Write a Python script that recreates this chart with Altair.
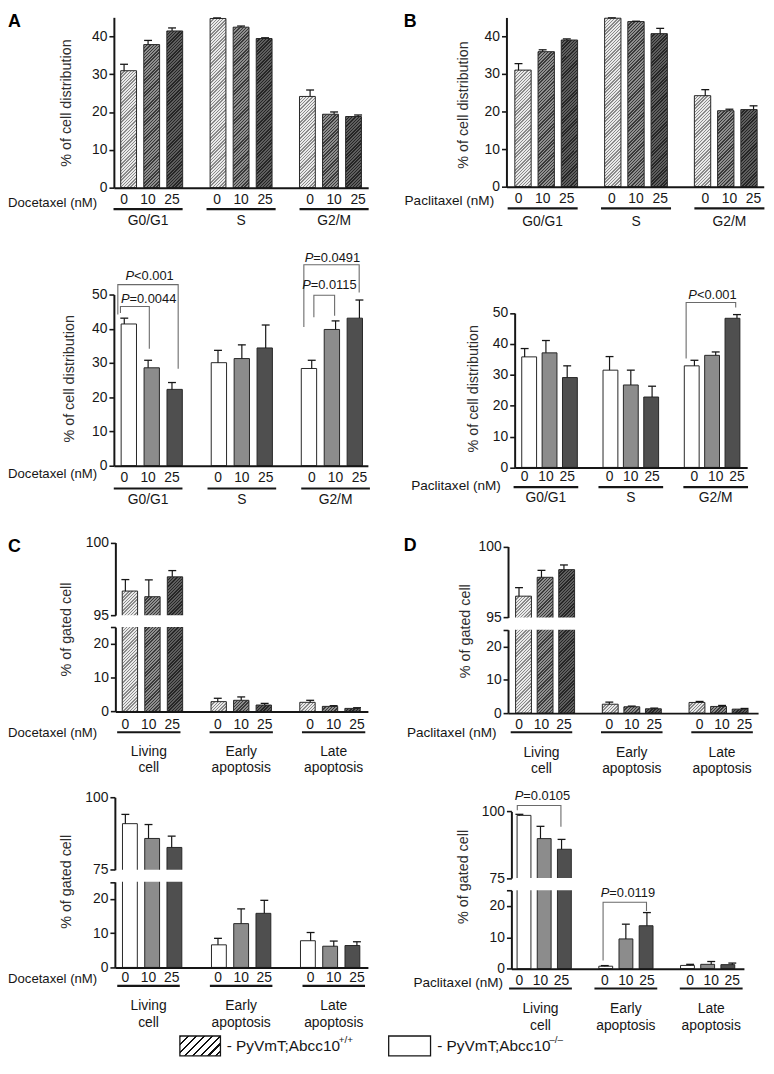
import math
import altair as alt

OFF = 8            # page margin: reference pixel -> canvas pixel
W, H = 766, 1054
FONT = "Liberation Sans"
INK = "#161616"
EXT = 2.5          # px a split bar runs into the axis break

# ---------------- data ----------------
DOSES = ["0", "10", "25"]
CYCLE_GROUPS = ["G0/G1", "S", "G2/M"]
APOP_GROUPS = ["Living\ncell", "Early\napoptosis", "Late\napoptosis"]
DOC = "Docetaxel (nM)"
PAC = "Paclitaxel (nM)"
Y_CYCLE = "% of cell distribution"
Y_APOP = "% of gated cell"

# order: group x dose (0, 10, 25)
A1_MEAN = [30.9, 37.8, 41.4, 44.7, 42.4, 39.4, 24.1, 19.4, 18.8]
A1_ERR = [1.7, 1.1, 0.8, 0.15, 0.3, 0.2, 1.7, 0.6, 0.4]
A2_MEAN = [41.4, 28.6, 22.3, 30.1, 31.3, 34.4, 28.4, 39.8, 43.1]
A2_ERR = [1.7, 2.2, 2.0, 3.6, 4.0, 6.7, 2.4, 2.5, 5.3]
B1_MEAN = [31.0, 35.9, 39.0, 44.8, 43.9, 40.7, 24.2, 20.2, 20.5]
B1_ERR = [1.7, 0.5, 0.3, 0.1, 0.1, 1.4, 1.6, 0.4, 1.0]
B2_MEAN = [35.8, 37.1, 29.1, 31.5, 26.7, 22.8, 32.9, 36.3, 48.3]
B2_ERR = [2.7, 4.0, 3.8, 4.4, 4.8, 3.5, 1.8, 1.1, 1.2]
C1_MEAN = [96.66, 96.27, 97.64, 2.9, 3.3, 1.9, 2.7, 1.5, 0.9]
C1_ERR = [0.79, 1.16, 0.43, 1.0, 1.0, 0.5, 0.6, 0.2, 0.2]
C2_MEAN = [90.9, 85.8, 82.7, 6.6, 12.8, 15.8, 7.8, 6.2, 6.4]
C2_ERR = [3.2, 4.8, 3.9, 1.9, 4.3, 3.8, 2.4, 1.5, 1.1]
D1_MEAN = [96.5, 97.83, 98.37, 2.67, 1.9, 1.3, 3.2, 2.0, 1.2]
D1_ERR = [0.6, 0.49, 0.33, 0.63, 0.2, 0.2, 0.3, 0.3, 0.2]
D2_MEAN = [98.5, 89.8, 85.8, 0.8, 9.5, 13.7, 1.05, 1.4, 1.3]
D2_ERR = [0.4, 4.6, 3.7, 0.2, 4.7, 4.2, 0.35, 0.9, 0.5]

SIG_A2 = ["P<0.001", "P=0.0044", "P=0.0491", "P=0.0115"]
SIG_B2 = ["P<0.001"]
SIG_D2 = ["P=0.0105", "P=0.0119"]

LEGEND_TXT = ["- PyVmT;Abcc10", "+/+", "- PyVmT;Abcc10", "\u2013/\u2013"]

# ---------------- styles ----------------
HATCH = {"0": ("#e9e9e9", "#8a8a8a"), "10": ("#8e8e8e", "#3a3a3a"), "25": ("#5e5e5e", "#262626")}
OPEN = {"0": "#ffffff", "10": "#8c8c8c", "25": "#4f4f4f"}
CW = {"P": .667, "=": .584, "<": .584, ".": .278, "-": .333, " ": .278, "y": .5, "V": .667,
      "m": .833, "T": .611, ";": .278, "A": .667, "b": .556, "c": .5}


def cpx(v):
    return v - OFF


def text_w(s, size):
    return sum(CW.get(c, .556) for c in s) * size


def hatch(w, h, bg, fg, period=2.3, lw=1.0):
    """Diagonal '/' stripes as a bounding-box linear gradient."""
    h = max(h, 0.5)
    iw, ih = 1.0 / w, 1.0 / h
    k = (ih + iw) / (ih * ih + iw * iw)
    L = (w + h) / math.sqrt(2)
    n = int(math.ceil(L / period))
    stops = []
    for i in range(n):
        a = i * period / L
        if a >= 1:
            break
        b = min((i * period + lw) / L, 1.0)
        c = min((i + 1) * period / L, 1.0)
        stops += [{"offset": round(a, 5), "color": fg}, {"offset": round(b, 5), "color": fg},
                  {"offset": round(b, 5), "color": bg}, {"offset": round(c, 5), "color": bg}]
    return {"gradient": "linear", "x1": 0, "y1": 0, "x2": round(k * ih, 5), "y2": round(k * iw, 5),
            "stops": stops}


# panel geometry (reference pixel coordinates)
PANELS = [
    dict(mean=A1_MEAN, err=A1_ERR, hatched=True, groups=CYCLE_GROUPS, title=Y_CYCLE,
         ax=115, xend=372, slot0=125.3, u=24.25, gs=3.876, bw=16, title_c=(66.7, 98),
         dose_y=196.7, line_y=205.7, uh=1.44, group_y=217.7,
         segs=[dict(lo=0, hi=45, y0=184, ppu=3.825, ticks=[0, 10, 20, 30, 40])]),
    dict(mean=B1_MEAN, err=B1_ERR, hatched=True, groups=CYCLE_GROUPS, title=Y_CYCLE,
         ax=511.7, xend=771.7, slot0=523.9, u=24.4, gs=3.867, bw=16.5, title_c=(468.3, 100),
         dose_y=195, line_y=205, uh=1.45, group_y=218.3,
         segs=[dict(lo=0, hi=45, y0=183, ppu=3.8, ticks=[0, 10, 20, 30, 40])]),
    dict(mean=A2_MEAN, err=A2_ERR, hatched=False, groups=CYCLE_GROUPS, title=Y_CYCLE,
         ax=115, xend=371.7, slot0=125.5, u=24.1, gs=3.93, bw=15.5, title_c=(70, 376.7),
         dose_y=477, line_y=488, uh=1.44, group_y=499.5,
         segs=[dict(lo=0, hi=50, y0=465, ppu=3.46, ticks=[0, 10, 20, 30, 40, 50])],
         sig=[(SIG_A2[0], 0, 1.06, 55.5, -0.27, 2.26, 52.9, 44.2, 28.3),
              (SIG_A2[1], 0, 1.02, 48.8, -0.16, 1.05, 46.5, 44.6, 34.2),
              (SIG_A2[2], 0, 8.73, 60.7, 7.53, 9.85, 58.7, 40.5, 50.6),
              (SIG_A2[3], 0, 8.62, 52.9, 7.95, 8.82, 49.8, 43.4, 43.8)]),
    dict(mean=B2_MEAN, err=B2_ERR, hatched=False, groups=CYCLE_GROUPS, title=Y_CYCLE,
         ax=520, xend=755, slot0=530.1, u=21.5, gs=3.99, bw=15, title_c=(478.3, 386.7),
         dose_y=476.7, line_y=486.7, uh=1.52, group_y=498,
         segs=[dict(lo=0, hi=50, y0=466.7, ppu=3.12, ticks=[0, 10, 20, 30, 40, 50])],
         sig=[(SIG_B2[0], 0, 8.83, 55.8, 7.59, 9.92, 53.4, 35.3, 51.8)]),
    dict(mean=C1_MEAN, err=C1_ERR, hatched=True, groups=APOP_GROUPS, title=Y_APOP,
         ax=116.5, xend=371.7, slot0=126.6, u=23.7, gs=3.94, bw=15.5, title_c=(66.7, 630),
         dose_y=726.7, line_y=734.3, uh=1.35, group_y=754.3,
         segs=[dict(lo=0, hi=25, y0=713.3, ppu=3.41, ticks=[0, 10, 20, 25]),
               dict(lo=95, hi=100, y0=616, ppu=14.67, ticks=[95, 100])]),
    dict(mean=D1_MEAN, err=D1_ERR, hatched=True, groups=APOP_GROUPS, title=Y_APOP,
         ax=513.3, xend=766, slot0=524.4, u=22.7, gs=4.02, bw=16, title_c=(470, 631.7),
         dose_y=726.7, line_y=734.3, uh=1.37, group_y=755,
         segs=[dict(lo=0, hi=25, y0=715, ppu=3.37, ticks=[0, 10, 20, 25]),
               dict(lo=95, hi=100, y0=618.3, ppu=14.33, ticks=[95, 100])]),
    dict(mean=C2_MEAN, err=C2_ERR, hatched=False, groups=APOP_GROUPS, title=Y_APOP,
         ax=116, xend=371.7, slot0=126.6, u=23.4, gs=4.0, bw=15, title_c=(66.7, 885),
         dose_y=982.3, line_y=990.7, uh=1.35, group_y=1011,
         segs=[dict(lo=0, hi=25, y0=972, ppu=3.46, ticks=[0, 10, 20, 25]),
               dict(lo=75, hi=100, y0=873.3, ppu=2.93, ticks=[75, 100])]),
    dict(mean=D2_MEAN, err=D2_ERR, hatched=False, groups=APOP_GROUPS, title=Y_APOP,
         ax=516.7, xend=751.7, slot0=524.8, u=21.3, gs=4.05, bw=14, title_c=(468.3, 880),
         dose_y=986, line_y=993.3, uh=1.49, group_y=1014.2,
         segs=[dict(lo=0, hi=25, y0=973.3, ppu=3.17, ticks=[0, 10, 20, 25]),
               dict(lo=75, hi=100, y0=881.7, ppu=2.696, ticks=[75, 100])],
         sig=[(SIG_D2[0], 1, 1.09, 105.9, -0.1, 1.97, 102.2, 100.4, 94.2),
              (SIG_D2[1], 0, 5.17, 24.2, 3.97, 6.03, 21.2, 2.6, 18.4)]),
]

SIDE = [  # drug label: text, x, y (reference px), align, font size
    (DOC, 8, 199.3, "left", 13.3), (PAC, 499.3, 197.3, "right", 13.7),
    (DOC, 8, 473, "left", 13.3), (PAC, 506, 486, "right", 13.7),
    (DOC, 8, 735, "left", 13.3), (PAC, 501.7, 735, "right", 13.7),
    (DOC, 8, 983.3, "left", 13.3), (PAC, 508.3, 987.8, "right", 13.7),
]
LETTERS = [("A", 8, 8), ("B", 408, 8), ("C", 8, 538), ("D", 408, 536.7)]


def build_panel(P):
    ax, xend, s0, u, gs = P["ax"], P["xend"], P["slot0"], P["u"], P["gs"]
    xscale = alt.Scale(type="linear", domain=[(ax - s0) / u, (xend - s0) / u],
                       range=[cpx(ax), cpx(xend)], nice=False, zero=False)
    segs = P["segs"]
    broken = len(segs) > 1
    out = []
    for si, seg in enumerate(segs):
        lo, hi, y0, ppu = seg["lo"], seg["hi"], seg["y0"], seg["ppu"]
        ytop = y0 - (hi - lo) * ppu
        yscale = alt.Scale(type="linear", domain=[lo, hi], range=[cpx(y0), cpx(ytop)],
                           nice=False, zero=False)

        def X(f, axis=None):
            return alt.X(f, scale=xscale, axis=axis)

        def Y(f, axis=None):
            return alt.Y(f, scale=yscale, axis=axis)

        bars, errs = [], []
        for i, (m, e) in enumerate(zip(P["mean"], P["err"])):
            g, d = divmod(i, 3)
            s = g * gs + d
            if not broken:
                base, top, show = lo, m, True
            elif si == 0:
                base = lo
                if m > hi:
                    top, show = hi + EXT / ppu, False
                else:
                    top, show = m, True
            else:
                if m <= lo:
                    continue
                base, top, show = lo - EXT / ppu, m, True
            rec = {"xs": s, "top": top, "base": base}
            if P["hatched"]:
                bg, fg = HATCH[DOSES[d]]
                rec["grad"] = hatch(P["bw"], (top - base) * ppu, bg, fg)
            else:
                rec["fill"] = OPEN[DOSES[d]]
            bars.append(rec)
            if show:
                errs.append({"xs": s, "m": m, "cap": m + e})

        yaxis_kw = dict(orient="left", offset=-cpx(ax), values=seg["ticks"], format="d",
                        labelOverlap=False, labelExpr="datum.value == 25 ? '' : datum.label",
                        tickSize=5, tickWidth=1.6, tickColor=INK, domainColor=INK, domainWidth=2,
                        labelFontSize=14, labelColor=INK, labelPadding=2, grid=False, title="",
                        zindex=1)
        if si == 0:
            yaxis_kw.update(title=P["title"], titleX=P["title_c"][0] - ax,
                            titleY=cpx(P["title_c"][1]), titleAngle=270, titleAlign="center",
                            titleBaseline="middle", titleFontSize=14.5, titleFontWeight="normal",
                            titleColor="#2e2e2e")
            xaxis = alt.Axis(orient="bottom", offset=cpx(y0) - H, labels=False, ticks=False,
                             domainColor=INK, domainWidth=2, grid=False, title="", zindex=1)
        else:
            xaxis = None
        yaxis = alt.Axis(**yaxis_kw)

        fill = alt.Fill("grad:N", scale=None) if P["hatched"] else alt.Fill("fill:N", scale=None)
        out.append(
            alt.Chart(alt.Data(values=bars)).mark_bar(size=P["bw"], orient="vertical", stroke="#262626",
                                                      strokeWidth=1).encode(
                x=X("xs:Q", xaxis), y=Y("top:Q", yaxis), y2="base:Q", fill=fill))
        if errs:
            out += [
                alt.Chart(alt.Data(values=errs)).mark_rule(color=INK, strokeWidth=1.2).encode(
                    x=X("xs:Q"), y=Y("m:Q"), y2="cap:Q"),
                alt.Chart(alt.Data(values=errs)).mark_tick(orient="horizontal", size=8, thickness=1.3,
                                                           color=INK, opacity=1).encode(
                    x=X("xs:Q"), y=Y("cap:Q")),
            ]
        if broken and si == 1:
            lower = segs[0]
            low_top = lower["y0"] - (lower["hi"] - lower["lo"]) * lower["ppu"]
            gap = (low_top - y0) / ppu
            out.append(
                alt.Chart(alt.Data(values=[{"x1": (ax + 2 - s0) / u, "x2": 2.6,
                                            "y1": lo - gap, "y2": lo}]))
                .mark_rect(color="white").encode(x=X("x1:Q"), x2="x2:Q", y=Y("y1:Q"), y2="y2:Q"))
        if si == 0:
            dl = [{"xs": g * gs + d, "t": DOSES[d]} for g in range(3) for d in range(3)]
            gl = [{"xs": g * gs + 1, "t": P["groups"][g]} for g in range(3)]
            ul = [{"x1": g * gs + 1 - P["uh"], "x2": g * gs + 1 + P["uh"]} for g in range(3)]
            out += [
                alt.Chart(alt.Data(values=dl)).mark_text(fontSize=14, color=INK, baseline="middle").encode(
                    x=X("xs:Q"), y=alt.value(cpx(P["dose_y"])), text="t:N"),
                alt.Chart(alt.Data(values=ul)).mark_rule(strokeWidth=2.2, color=INK).encode(
                    x=X("x1:Q"), x2="x2:Q", y=alt.value(cpx(P["line_y"]))),
                alt.Chart(alt.Data(values=gl)).mark_text(fontSize=14, color=INK, baseline="middle",
                                                         lineBreak="\n", lineHeight=16.7).encode(
                    x=X("xs:Q"), y=alt.value(cpx(P["group_y"])), text="t:N"),
            ]
        # significance brackets
        lines, ptxt, rtxt = [], [], []
        for k, (lab, sidx, cx, ty, xl, xr, yt, yl, yr) in enumerate(P.get("sig", [])):
            if sidx != si:
                continue
            for o, (bx, by) in enumerate([(xl, yl), (xl, yt), (xr, yt), (xr, yr)]):
                lines.append({"bid": k, "bo": o, "bx": bx, "by": by})
            tw = text_w(lab, 13)
            anchor = cx + (-tw / 2 + CW["P"] * 13) / u
            ptxt.append({"xs": anchor, "ty": ty, "t": lab[0]})
            rtxt.append({"xs": anchor, "ty": ty, "t": lab[1:]})
        if lines:
            out += [
                alt.Chart(alt.Data(values=lines)).mark_line(color="#6a6a6a", strokeWidth=1.1).encode(
                    x=X("bx:Q"), y=Y("by:Q"), detail="bid:N", order="bo:Q"),
                alt.Chart(alt.Data(values=ptxt)).mark_text(fontSize=13, fontStyle="italic", align="right",
                                                           baseline="middle", color=INK).encode(
                    x=X("xs:Q"), y=Y("ty:Q"), text="t:N"),
                alt.Chart(alt.Data(values=rtxt)).mark_text(fontSize=13, align="left",
                                                           baseline="middle", color=INK).encode(
                    x=X("xs:Q"), y=Y("ty:Q"), text="t:N"),
            ]
    return out


all_layers = []
for P in PANELS:
    all_layers += build_panel(P)

for t, x, y, al, fs in SIDE:
    all_layers.append(
        alt.Chart(alt.Data(values=[{"t": t}])).mark_text(fontSize=fs, color=INK, align=al,
                                                         baseline="middle").encode(
            x=alt.value(max(cpx(x), 0)), y=alt.value(cpx(y)), text="t:N"))
for t, x, y in LETTERS:
    all_layers.append(
        alt.Chart(alt.Data(values=[{"t": t}])).mark_text(fontSize=18, fontWeight="bold", color="#000",
                                                         align="left", baseline="top").encode(
            x=alt.value(max(cpx(x), 0)), y=alt.value(max(cpx(y), 0)), text="t:N"))

# legend (shifted up slightly to stay on the page)
LY = 20
leg_boxes = [
    (181.7, 222.7, hatch(41, 20, "#ffffff", "#111111", period=5.6, lw=1.5)),
    (392.7, 435.0, "#ffffff"),
]
for x1, x2, f in leg_boxes:
    all_layers.append(
        alt.Chart(alt.Data(values=[{"k": 1}])).mark_rect(stroke=INK, strokeWidth=1.3).encode(
            x=alt.value(x1 - OFF), x2=alt.value(x2 - OFF), y=alt.value(1053.3 - LY),
            y2=alt.value(1073.3 - LY), fill=alt.value(f)))
LFS = 15.5
for i, x in enumerate([229, 441.7]):
    main, sup = LEGEND_TXT[2 * i], LEGEND_TXT[2 * i + 1]
    xs = cpx(x) + text_w(main, LFS) - 3
    all_layers += [
        alt.Chart(alt.Data(values=[{"t": main}])).mark_text(fontSize=LFS, color=INK, align="left",
                                                            baseline="middle").encode(
            x=alt.value(cpx(x)), y=alt.value(1063 - LY), text="t:N"),
        alt.Chart(alt.Data(values=[{"t": sup}])).mark_text(fontSize=10, color=INK, align="left",
                                                           baseline="middle").encode(
            x=alt.value(xs), y=alt.value(1057 - LY), text="t:N"),
    ]

chart = (
    alt.LayerChart(layer=all_layers)
    .resolve_scale(x="independent", y="independent")
    .properties(width=W, height=H, padding=0, autosize=alt.AutoSizeParams(type="none"),
                background="white")
    .configure_view(stroke=None)
    .configure_axis(labelFont=FONT, titleFont=FONT, grid=False)
    .configure_text(font=FONT)
)

chart.save("out.html", embed_options={"renderer": "svg", "actions": False})
